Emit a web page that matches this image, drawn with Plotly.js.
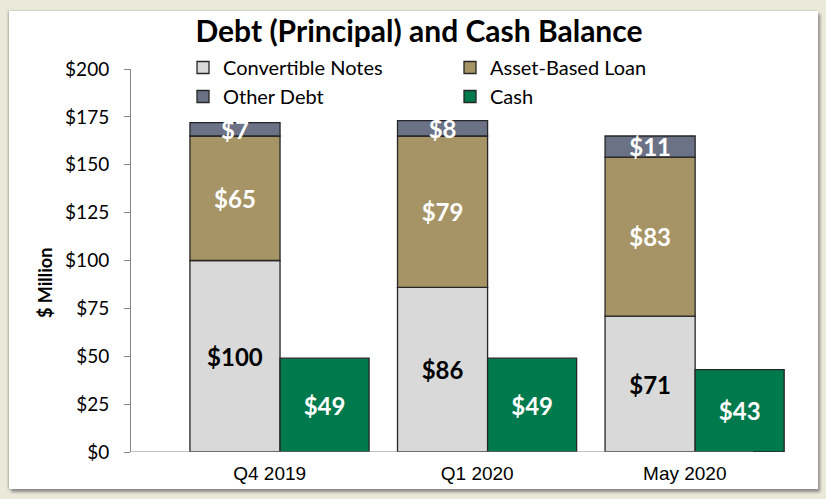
<!DOCTYPE html>
<html>
<head>
<meta charset="utf-8">
<script src="https://cdn.plot.ly/plotly-3.0.1.min.js"></script>
<style>
  html, body { margin: 0; padding: 0; background: #EAE9DA; width: 826px; height: 499px; overflow: hidden; }
  #panel { position: absolute; left: 9px; top: 11px; width: 809px; height: 478px; background: #FFFFFF;
           box-shadow: 2px 3px 3px #8a8a8a, -1px 0 2px #b0b0a0; }
  #chart { position: absolute; left: 0; top: 0; width: 826px; height: 499px; }
</style>
</head>
<body>
<div id="panel"></div>
<div id="chart"></div>
<script>
// ---- data ----
const categories = ["Q4 2019", "Q1 2020", "May 2020"];
const convertibleNotes = [100, 86, 71];
const assetBasedLoan = [65, 79, 83];
const otherDebt = [7, 8, 11];
const cash = [49, 49, 43];
const yTickValues = [0, 25, 50, 75, 100, 125, 150, 175, 200];
const yTickLabels = yTickValues.map(v => "$" + v);

// ---- layout helpers ----
const xpos = categories.map((c, i) => i);
const fmt = v => "$" + v;
const debtOffset = -0.384, debtWidth = 0.434;
const cashOffset = 0.05, cashWidth = 0.429;
const outline = { color: "#262626", width: 1.3 };
const labelFont = "Lato, 'Open Sans', sans-serif";

const baseABL = convertibleNotes.slice();
const baseOther = convertibleNotes.map((v, i) => v + assetBasedLoan[i]);

function barTrace(name, vals, base, color, txtColor, offset, width) {
  return {
    type: "bar", name: name, x: xpos, y: vals, base: base,
    offset: offset, width: width,
    marker: { color: color, line: outline },
    text: vals.map(fmt), textposition: "inside", insidetextanchor: "middle", textangle: 0,
    insidetextfont: { family: labelFont, size: 24, color: txtColor, weight: "bold" },
    hoverinfo: "skip"
  };
}

const traces = [
  barTrace("Convertible Notes", convertibleNotes, convertibleNotes.map(() => 0), "#D9D9D9", "#000000", debtOffset, debtWidth),
  barTrace("Asset-Based Loan", assetBasedLoan, baseABL, "#A69466", "#FFFFFF", debtOffset, debtWidth),
  barTrace("Other Debt", otherDebt, baseOther, "#6B7286", "#FFFFFF", debtOffset, debtWidth),
  barTrace("Cash", cash, cash.map(() => 0), "#007A4D", "#FFFFFF", cashOffset, cashWidth)
];

const L = 131, R = 36, T = 69, B = 47;
const plotW = 826 - L - R, plotH = 499 - T - B;
const px2x = px => (px - L) / plotW;
const py2y = py => (499 - B - py) / plotH;

const layout = {
  width: 826, height: 499,
  paper_bgcolor: "rgba(0,0,0,0)", plot_bgcolor: "rgba(0,0,0,0)",
  margin: { l: L, r: R, t: T, b: B, pad: 0, autoexpand: false },
  barmode: "overlay",
  uniformtext: { minsize: 24, mode: "show" },
  showlegend: true,
  title: {
    text: "<b>Debt (Principal) and Cash Balance</b>",
    font: { family: labelFont, size: 30, color: "#000000" },
    xref: "container", yref: "container", x: 419 / 826, xanchor: "center", y: 1 - 31 / 499, yanchor: "middle"
  },
  legend: {
    orientation: "h", xref: "paper", yref: "paper",
    x: px2x(183), xanchor: "left", y: py2y(48), yanchor: "top",
    entrywidth: 222, entrywidthmode: "pixels", itemwidth: 30,
    font: { family: labelFont, size: 20, color: "#000000" },
    bgcolor: "rgba(0,0,0,0)", traceorder: "normal", itemclick: false
  },
  xaxis: {
    type: "linear", range: [-0.668, 2.507],
    tickvals: xpos, ticktext: categories,
    showline: false, showgrid: false, zeroline: false, ticks: "",
    ticklabelstandoff: 8,
    tickfont: { family: "'Liberation Sans', Arial, sans-serif", size: 19, color: "#000000" },
    fixedrange: true
  },
  yaxis: {
    range: [0, 200], tickvals: yTickValues, ticktext: yTickLabels,
    showline: true, linecolor: "#868686", linewidth: 1,
    ticks: "outside", ticklen: 6, tickcolor: "#868686", tickwidth: 1,
    ticklabelstandoff: 11,
    showgrid: false, zeroline: false,
    tickfont: { family: labelFont, size: 19, color: "#000000" },
    fixedrange: true
  },
  annotations: [
    { text: "<b>$ Million</b>", textangle: -90, showarrow: false,
      xref: "paper", yref: "paper", x: px2x(45), y: py2y(283), xanchor: "center", yanchor: "middle",
      font: { family: labelFont, size: 18, color: "#000000" } }
  ],
  shapes: [
    { type: "line", xref: "paper", yref: "y", x0: 0, x1: px2x(753), y0: 0, y1: 0,
      line: { color: "#868686", width: 1 }, layer: "above" }
  ]
};

Plotly.newPlot("chart", traces, layout, { displayModeBar: false, staticPlot: true });
</script>
</body>
</html>
